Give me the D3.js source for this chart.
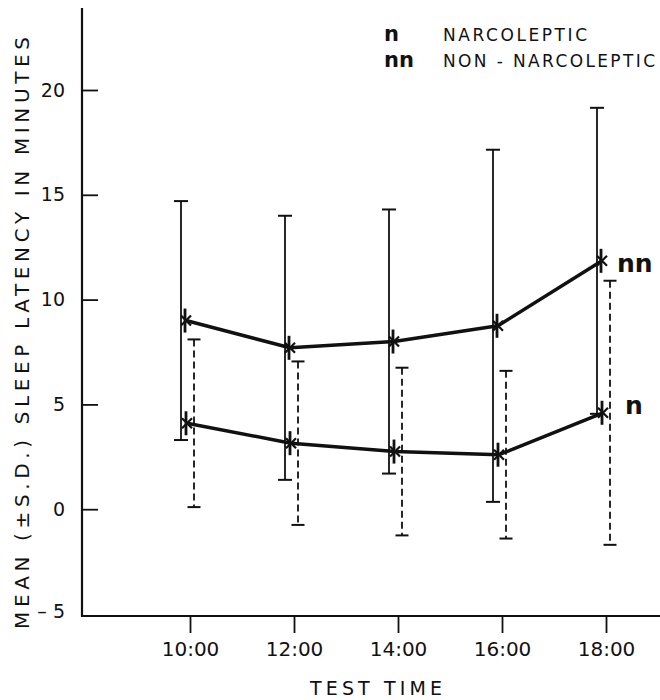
<!DOCTYPE html>
<html>
<head>
<meta charset="utf-8">
<script src="https://cdn.jsdelivr.net/npm/d3@7"></script>
<style>
  html, body { margin: 0; padding: 0; background: #fff; }
  svg { display: block; font-family: "DejaVu Sans", sans-serif; }
</style>
</head>
<body>
<svg id="chart" width="660" height="700"></svg>
<script>
// ---- data ----
const times = ["10:00", "12:00", "14:00", "16:00", "18:00"];
const nnMean = [9.0, 7.7, 8.0, 8.75, 11.85];   // non-narcoleptic
const nnSD   = [5.7, 6.3, 6.3, 8.4, 7.3];
const nMean  = [4.1, 3.15, 2.75, 2.6, 4.6];    // narcoleptic
const nSD    = [4.0, 3.9, 4.0, 4.0, 6.3];
const yTicks = [-5, 0, 5, 10, 15, 20];
const legendKeys = ["n", "nn"];
const legendNames = ["NARCOLEPTIC", "NON - NARCOLEPTIC"];

// ---- layout ----
const svg = d3.select("#chart");
const axisX = 82, axisY = 616, rightEdge = 660, topY = 8;

const x = d3.scalePoint().domain(times).range([190, 606]);
const y = d3.scaleLinear().domain([-5, 20]).range([614, 90]);

const ink = "#111";

// axes lines
svg.append("line").attr("x1", axisX).attr("x2", axisX).attr("y1", topY).attr("y2", axisY + 1)
  .attr("stroke", ink).attr("stroke-width", 2.2);
svg.append("line").attr("x1", axisX - 1).attr("x2", rightEdge).attr("y1", axisY).attr("y2", axisY)
  .attr("stroke", ink).attr("stroke-width", 2.2);

// y axis ticks + labels
const yAxis = d3.axisLeft(y).tickValues(yTicks).tickSizeInner(-16).tickSizeOuter(0).tickPadding(17)
  .tickFormat(d => d < 0 ? "\u2013 " + Math.abs(d) : String(d));
const gy = svg.append("g").attr("transform", `translate(${axisX},0)`).call(yAxis);
gy.select(".domain").remove();
gy.selectAll(".tick line").attr("stroke", ink).attr("stroke-width", 1.8)
  .filter(d => d === -5).remove();
gy.selectAll(".tick text").attr("font-size", 19).attr("fill", ink)
  .attr("font-family", "DejaVu Sans, sans-serif");
gy.selectAll(".tick").filter(d => d === -5).select("text").attr("dy", "0.2em");

// x axis ticks + labels
const xAxis = d3.axisBottom(x).tickSizeInner(17).tickSizeOuter(0).tickPadding(9);
const gx = svg.append("g").attr("transform", `translate(0,${axisY})`).call(xAxis);
gx.select(".domain").remove();
gx.selectAll(".tick line").attr("stroke", ink).attr("stroke-width", 1.8);
gx.selectAll(".tick text").attr("font-size", 20).attr("fill", ink)
  .attr("font-family", "DejaVu Sans, sans-serif");

// axis titles
svg.append("text").attr("x", 376).attr("y", 695).attr("text-anchor", "middle")
  .attr("font-size", 19).attr("fill", ink)
  .attr("textLength", 132).attr("lengthAdjust", "spacing")
  .text("TEST TIME");
svg.append("text").attr("transform", "translate(29,333) rotate(-90)")
  .attr("text-anchor", "middle").attr("font-size", 20).attr("fill", ink)
  .attr("textLength", 592).attr("lengthAdjust", "spacing")
  .text("MEAN (\u00B1S.D.) SLEEP LATENCY IN MINUTES");

// ---- error bars ----
function errorBars(means, sds, dx, dashed, capW) {
  const g = svg.append("g");
  means.forEach((m, i) => {
    const cx = x(times[i]) + dx;
    const y1 = y(m + sds[i]), y2 = y(m - sds[i]);
    g.append("line").attr("x1", cx).attr("x2", cx).attr("y1", y1).attr("y2", y2)
      .attr("stroke", ink).attr("stroke-width", 1.8)
      .attr("stroke-dasharray", dashed ? "7,4" : null);
    [y1, y2].forEach(yy => {
      g.append("line").attr("x1", cx - capW / 2).attr("x2", cx + capW / 2)
        .attr("y1", yy).attr("y2", yy).attr("stroke", ink).attr("stroke-width", 2);
    });
  });
}
errorBars(nnMean, nnSD, -9, false, 14);
errorBars(nMean, nSD, 4, true, 13);

// ---- mean lines ----
function series(means, dx) {
  const line = d3.line().x((d, i) => x(times[i]) + dx).y(d => y(d));
  svg.append("path").datum(means).attr("d", line)
    .attr("fill", "none").attr("stroke", ink).attr("stroke-width", 3.5)
    .attr("stroke-linejoin", "round");
  const g = svg.append("g");
  means.forEach((m, i) => {
    const cx = x(times[i]) + dx, cy = y(m);
    g.append("line").attr("x1", cx - 1).attr("x2", cx - 1).attr("y1", cy - 12).attr("y2", cy + 12)
      .attr("stroke", ink).attr("stroke-width", 2.8);
    g.append("path").attr("d", `M${cx - 5},${cy - 5}L${cx + 5},${cy + 5}M${cx - 5},${cy + 5}L${cx + 5},${cy - 5}`)
      .attr("stroke", ink).attr("stroke-width", 2.2);
  });
}
series(nnMean, -4);
series(nMean, -3);

// series end labels
svg.append("text").attr("x", 617).attr("y", y(nnMean[4]) + 11).attr("font-size", 25)
  .attr("font-weight", "bold").attr("fill", ink).text(legendKeys[1]);
svg.append("text").attr("x", 625).attr("y", y(nMean[4]) + 1).attr("font-size", 25)
  .attr("font-weight", "bold").attr("fill", ink).text(legendKeys[0]);

// ---- legend ----
const legY = [41, 67];
legendKeys.forEach((k, i) => {
  svg.append("text").attr("x", 384).attr("y", legY[i]).attr("font-size", 21)
    .attr("font-weight", "bold").attr("fill", ink).text(k);
});
svg.append("text").attr("x", 443).attr("y", legY[0]).attr("font-size", 17).attr("fill", ink)
  .attr("textLength", 144).attr("lengthAdjust", "spacing").text(legendNames[0]);
svg.append("text").attr("x", 443).attr("y", legY[1]).attr("font-size", 17).attr("fill", ink)
  .attr("textLength", 212).attr("lengthAdjust", "spacing").text(legendNames[1]);
</script>
</body>
</html>
